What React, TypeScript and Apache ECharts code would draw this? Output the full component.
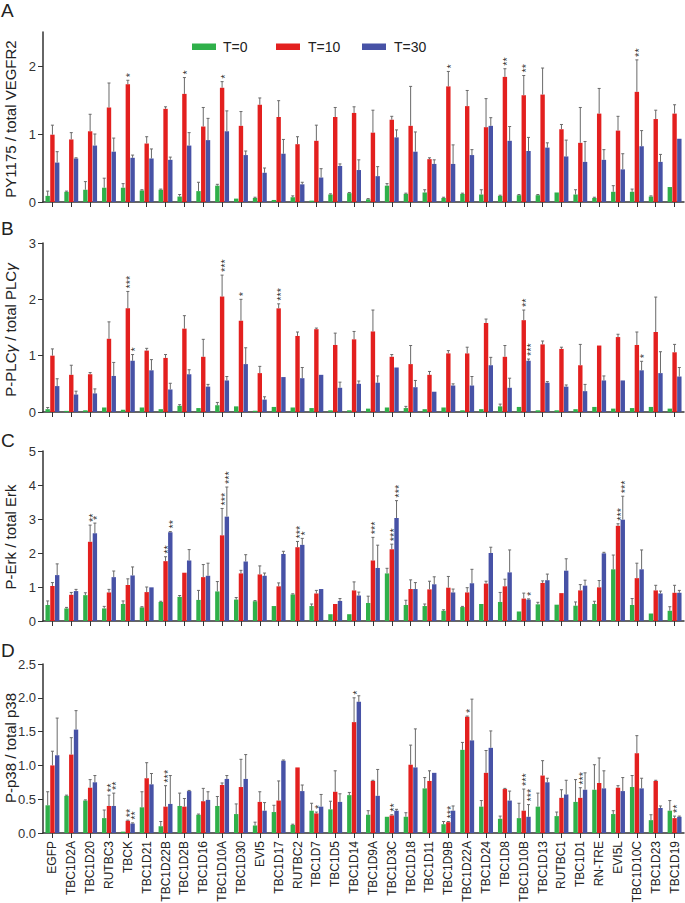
import React, { useEffect, useRef } from 'react';
import * as echarts from 'echarts';

const categories = ['EGFP','TBC1D2A','TBC1D20','RUTBC3','TBCK','TBC1D21','TBC1D22B','TBC1D2B','TBC1D16','TBC1D10A','TBC1D30','EVI5','TBC1D17','RUTBC2','TBC1D7','TBC1D5','TBC1D14','TBC1D9A','TBC1D3C','TBC1D18','TBC1D11','TBC1D9B','TBC1D22A','TBC1D24','TBC1D8','TBC1D10B','TBC1D13','RUTBC1','TBC1D1','RN-TRE','EVI5L','TBC1D10C','TBC1D23','TBC1D19'];

const seriesNames = ['T=0', 'T=10', 'T=30'];

// Panel A: PY1175 / total VEGFR2 (mean and top of error bar)
const vegfrT0 = [0.09,0.15,0.18,0.21,0.21,0.17,0.18,0.08,0.16,0.24,0.05,0.06,0.03,0.07,0.02,0.11,0.13,0.04,0.24,0.12,0.14,0.06,0.12,0.11,0.09,0.10,0.10,0.14,0.11,0.06,0.15,0.15,0.08,0.22];
const vegfrT0Hi = [0.16,0.16,0.30,0.35,0.27,0.18,0.19,0.11,0.29,0.26,0.05,0.07,0.03,0.09,0.02,0.12,0.14,0.05,0.27,0.13,0.18,0.07,0.13,0.18,0.10,0.11,0.11,0.14,0.18,0.07,0.24,0.19,0.09,0.22];
const vegfrT10 = [0.99,0.92,1.04,1.39,1.73,0.86,1.37,1.59,1.11,1.68,1.12,1.43,1.25,0.85,0.90,1.25,1.31,1.02,1.21,1.12,0.63,1.70,1.41,1.10,1.84,1.57,1.58,1.07,0.87,1.30,1.05,1.62,1.22,1.30];
const vegfrT10Hi = [1.13,1.02,1.29,1.75,1.79,0.96,1.40,1.83,1.39,1.77,1.33,1.53,1.49,0.96,1.13,1.39,1.40,1.35,1.26,1.70,0.65,1.92,1.64,1.52,1.96,1.86,1.97,1.14,1.39,1.67,1.26,2.09,1.35,1.43];
const vegfrT30 = [0.58,0.64,0.83,0.74,0.65,0.64,0.62,0.83,0.91,1.04,0.69,0.43,0.71,0.26,0.36,0.53,0.47,0.38,0.95,0.74,0.56,0.56,0.69,1.12,0.90,0.75,0.80,0.67,0.59,0.62,0.48,0.82,0.59,0.93];
const vegfrT30Hi = [0.74,0.65,1.00,0.94,0.69,0.78,0.66,1.02,1.23,1.34,0.75,0.50,0.92,0.29,0.49,0.56,0.62,0.52,1.06,1.03,0.62,0.84,0.77,1.24,1.11,0.95,0.87,0.91,0.89,0.77,0.71,1.05,0.70,0.93];
const vegfrSig10: Record<string, string> = { TBCK: '*', TBC1D2B: '*', TBC1D10A: '*', TBC1D9B: '*', TBC1D8: '**', TBC1D10B: '**', TBC1D10C: '**' };
const vegfrSig30: Record<string, string> = {};

// Panel B: P-PLCγ / total PLCγ
const plcT0 = [0.05,0.02,0.03,0.08,0.04,0.08,0.05,0.11,0.07,0.12,0.10,0.02,0.09,0.08,0.07,0.03,0.03,0.06,0.08,0.07,0.05,0.08,0.03,0.05,0.10,0.09,0.03,0.03,0.05,0.09,0.06,0.07,0.09,0.06];
const plcT0Hi = [0.08,0.03,0.04,0.09,0.05,0.09,0.06,0.13,0.08,0.17,0.11,0.03,0.10,0.09,0.08,0.04,0.04,0.07,0.09,0.10,0.06,0.09,0.04,0.06,0.14,0.10,0.04,0.04,0.06,0.10,0.07,0.08,0.10,0.07];
const plcT10 = [1.00,0.66,0.67,1.30,1.84,1.09,0.96,1.48,0.98,2.05,1.62,0.69,1.84,1.35,1.47,1.19,1.29,1.43,0.98,0.85,0.66,1.04,1.04,1.58,0.98,1.63,1.20,1.12,0.83,1.18,1.33,1.19,1.42,1.06];
const plcT10Hi = [1.12,0.83,0.70,1.60,2.14,1.13,1.02,1.71,1.29,2.43,2.00,0.81,1.92,1.42,1.49,1.40,1.43,1.81,1.02,1.18,0.72,1.09,1.15,1.65,1.18,1.81,1.26,1.15,1.20,1.19,1.38,1.42,2.04,1.20];
const plcT30 = [0.46,0.31,0.33,0.64,0.91,0.74,0.40,0.67,0.45,0.56,0.85,0.22,0.62,0.60,0.66,0.43,0.50,0.52,0.79,0.44,0.36,0.47,0.47,0.83,0.43,0.91,0.52,0.45,0.37,0.56,0.56,0.74,0.69,0.63];
const plcT30Hi = [0.59,0.37,0.41,0.88,1.02,0.93,0.51,0.75,0.49,0.63,1.14,0.27,0.62,0.79,0.67,0.53,0.55,0.64,0.80,0.56,0.37,0.50,0.63,0.97,0.60,0.94,0.54,0.48,0.49,0.64,0.57,0.90,1.07,0.79];
const plcSig10: Record<string, string> = { TBCK: '***', TBC1D10A: '***', TBC1D30: '*', TBC1D17: '***', TBC1D10B: '**' };
const plcSig30: Record<string, string> = { TBCK: '*', TBC1D10B: '***', TBC1D10C: '*' };

// Panel C: P-Erk / total Erk
const erkT0 = [0.47,0.37,0.76,0.37,0.50,0.40,0.56,0.71,0.62,0.87,0.63,0.58,0.44,0.78,0.44,0.20,0.20,0.53,1.40,0.47,0.44,0.30,0.41,0.50,0.56,0.28,0.49,0.48,0.45,0.50,1.52,0.47,0.22,0.30];
const erkT0Hi = [0.59,0.40,0.83,0.43,0.59,0.42,0.58,0.75,0.90,1.16,0.69,0.60,0.44,0.80,0.50,0.20,0.20,0.73,1.55,0.61,0.50,0.33,0.43,0.50,0.84,0.28,0.55,0.48,0.56,0.58,1.94,0.66,0.22,0.42];
const erkT10 = [1.03,0.77,2.33,0.84,1.06,0.85,1.76,1.42,1.29,2.52,1.40,1.37,1.02,2.17,0.81,0.50,0.90,1.78,2.11,0.94,0.93,0.98,0.84,1.10,1.02,0.66,1.12,0.82,0.90,0.99,2.80,1.26,0.90,0.83];
const erkT10Hi = [1.13,0.84,2.82,0.93,1.24,1.00,1.89,1.43,1.66,3.31,1.49,1.62,1.12,2.34,0.90,0.50,1.15,2.46,2.26,1.21,1.17,1.31,0.98,1.17,1.23,0.82,1.18,0.82,1.07,1.19,2.86,1.70,1.05,1.05];
const erkT30 = [1.35,0.88,2.58,1.29,1.34,0.99,2.61,1.78,1.33,3.07,1.75,1.33,1.97,2.24,0.94,0.59,0.75,1.56,3.03,0.94,1.08,0.84,1.11,2.00,1.43,0.63,1.20,1.48,1.04,1.99,2.98,1.52,0.81,0.83];
const erkT30Hi = [1.68,0.93,2.88,1.47,1.59,1.00,2.63,2.10,1.70,3.94,1.95,1.41,2.05,2.43,0.95,0.66,0.85,2.23,3.54,1.13,1.30,0.94,1.52,2.17,2.09,0.65,1.38,1.83,1.20,2.02,3.67,2.09,0.88,0.90];
const erkSig10: Record<string, string> = { TBC1D20: '**', TBC1D22B: '**', TBC1D10A: '***', RUTBC2: '***', TBC1D9A: '***', TBC1D3C: '***', EVI5L: '***' };
const erkSig30: Record<string, string> = { TBC1D20: '*', TBC1D22B: '**', TBC1D10A: '***', RUTBC2: '*', TBC1D3C: '***', TBC1D10B: '*', EVI5L: '***' };

// Panel D: P-p38 / total p38
const p38T0 = [0.41,0.55,0.48,0.22,0.02,0.38,0.10,0.40,0.27,0.40,0.28,0.11,0.31,0.12,0.33,0.35,0.56,0.27,0.24,0.24,0.66,0.13,1.23,0.39,0.21,0.22,0.39,0.25,0.46,0.64,0.28,0.68,0.19,0.33];
const p38T0Hi = [0.61,0.56,0.49,0.34,0.02,0.61,0.17,0.59,0.28,0.54,0.43,0.16,0.41,0.13,0.44,0.47,0.60,0.33,0.24,0.30,0.82,0.17,1.34,0.48,0.25,0.44,0.59,0.31,0.79,1.01,0.33,0.85,0.27,0.48];
const p38T10 = [1.00,1.16,0.67,0.40,0.18,0.81,0.39,0.39,0.47,0.71,0.68,0.46,0.48,0.97,0.29,0.61,1.64,0.77,0.26,1.01,0.77,0.16,1.72,0.89,0.65,0.33,0.85,0.52,0.52,0.74,0.67,1.18,0.77,0.22];
const p38T10Hi = [1.21,1.41,0.79,0.56,0.19,1.04,0.70,0.51,0.66,0.74,1.09,0.61,0.77,0.97,0.31,0.92,2.00,0.78,0.27,1.30,0.92,0.17,1.73,1.22,0.66,0.65,1.07,0.64,0.67,1.11,0.70,1.44,0.78,0.25];
const p38T30 = [1.15,1.53,0.75,0.40,0.14,0.72,0.43,0.62,0.49,0.80,0.80,0.33,1.07,0.62,0.39,0.46,1.94,0.55,0.33,0.97,0.89,0.33,1.37,1.26,0.48,0.24,0.75,0.57,0.64,0.66,0.62,0.66,0.37,0.24];
const p38T30Hi = [1.70,1.81,0.85,0.59,0.15,0.88,0.85,0.63,0.61,0.85,1.16,0.45,1.08,0.71,0.57,0.58,2.03,0.94,0.35,1.54,0.89,0.40,1.98,1.51,0.62,0.42,0.81,0.78,0.89,0.92,0.82,0.81,0.40,0.25];
const p38Sig10: Record<string, string> = { RUTBC3: '**', TBCK: '**', TBC1D22B: '***', TBC1D7: '*', TBC1D14: '*', TBC1D3C: '**', TBC1D9B: '***', TBC1D22A: '*', TBC1D10B: '***', TBC1D1: '***', TBC1D19: '**' };
const p38Sig30: Record<string, string> = { RUTBC3: '**', TBCK: '**', TBC1D10B: '***' };

const FONT = 'Arial, "Liberation Sans", Helvetica, sans-serif';
const COLORS = ['#2fb04a', '#e3201f', '#4752a6'];
const ERR_COLOR = '#6a6a6a';
const BAR_W = 4.4;
const BAR_GAP = 0.08;
const STEP = BAR_W * (1 + BAR_GAP);
const GRID_LEFT = 43;
const GRID_WIDTH = 641;

const panels = [
  { letter: 'A', letterY: 1, top: 32, height: 170, max: 2.5, ticks: [0, 1, 2], decimals: 0,
    title: 'PY1175 / total VEGFR2', titleY: 119,
    series: [[vegfrT0, vegfrT0Hi], [vegfrT10, vegfrT10Hi], [vegfrT30, vegfrT30Hi]],
    sig: [{}, vegfrSig10, vegfrSig30] },
  { letter: 'B', letterY: 219, top: 243, height: 169, max: 3, ticks: [0, 1, 2, 3], decimals: 0,
    title: 'P-PLC{g|γ} / total PLC{g|γ}', titleY: 330,
    series: [[plcT0, plcT0Hi], [plcT10, plcT10Hi], [plcT30, plcT30Hi]],
    sig: [{}, plcSig10, plcSig30] },
  { letter: 'C', letterY: 431, top: 451, height: 170, max: 5, ticks: [0, 1, 2, 3, 4, 5], decimals: 0,
    title: 'P-Erk / total Erk', titleY: 537,
    series: [[erkT0, erkT0Hi], [erkT10, erkT10Hi], [erkT30, erkT30Hi]],
    sig: [{}, erkSig10, erkSig30] },
  { letter: 'D', letterY: 641, top: 664, height: 169, max: 2.5, ticks: [0, 0.5, 1, 1.5, 2, 2.5], decimals: 1,
    title: 'P-p38 / total p38', titleY: 748,
    series: [[p38T0, p38T0Hi], [p38T10, p38T10Hi], [p38T30, p38T30Hi]],
    sig: [{}, p38Sig10, p38Sig30] },
];

function buildOption() {
  const grid: any[] = [];
  const xAxis: any[] = [];
  const yAxis: any[] = [];
  const series: any[] = [];
  const graphic: any[] = [];

  panels.forEach((p, pi) => {
    const last = pi === panels.length - 1;
    grid.push({ left: GRID_LEFT, width: GRID_WIDTH, top: p.top, height: p.height, containLabel: false, outerBoundsMode: 'none' });
    xAxis.push({
      type: 'category', gridIndex: pi, data: categories,
      axisLine: { show: true, lineStyle: { color: '#333', width: 1.5 } },
      axisTick: { show: true, alignWithLabel: true, length: 5, interval: 0, lineStyle: { color: '#333', width: 1 } },
      axisLabel: last
        ? { show: true, interval: 0, rotate: 90, fontSize: 12, margin: 8, color: '#222', fontFamily: FONT }
        : { show: false },
      splitLine: { show: false },
    });
    yAxis.push({
      type: 'value', gridIndex: pi, min: 0, max: p.max, interval: p.decimals ? 0.5 : 1,
      axisLine: { show: true, lineStyle: { color: '#333', width: 1.5 } },
      axisTick: { show: true, length: 5, customValues: p.ticks, lineStyle: { color: '#333', width: 1 } },
      axisLabel: {
        show: true, customValues: p.ticks, fontSize: 13, margin: 7, color: '#333', fontFamily: FONT,
        formatter: (v: number) => v.toFixed(p.decimals),
      },
      splitLine: { show: false },
    });

    p.series.forEach(([vals], si) => {
      series.push({
        type: 'bar', name: seriesNames[si], xAxisIndex: pi, yAxisIndex: pi, data: vals,
        barWidth: BAR_W, barGap: `${BAR_GAP * 100}%`, silent: true,
        itemStyle: { color: COLORS[si] },
      });
    });
    p.series.forEach(([vals, his], si) => {
      const sig = p.sig[si] as Record<string, string>;
      const off = (si - 1) * STEP;
      series.push({
        type: 'custom', xAxisIndex: pi, yAxisIndex: pi, silent: true, clip: false, z: 5,
        encode: { x: 0, y: 1 },
        data: vals.map((v, i) => [i, v, his[i]]),
        renderItem: (params: any, api: any) => {
          const idx = api.value(0);
          const val = api.value(1);
          const hi = api.value(2);
          const p0 = api.coord([idx, val]);
          const p1 = api.coord([idx, hi]);
          const x = p0[0] + off;
          const children: any[] = [];
          if (p0[1] - p1[1] > 0.6) {
            children.push({ type: 'line', shape: { x1: x, y1: p0[1], x2: x, y2: p1[1] }, style: { stroke: ERR_COLOR, lineWidth: 1 } });
            children.push({ type: 'line', shape: { x1: x - 1.5, y1: p1[1], x2: x + 1.5, y2: p1[1] }, style: { stroke: ERR_COLOR, lineWidth: 1 } });
          }
          const s = sig[categories[params.dataIndex]];
          if (s) {
            children.push({
              type: 'text', x: x + 2.5, y: p1[1] - 3, rotation: Math.PI / 2,
              style: { text: s, fontSize: 11, fill: '#333', align: 'left', verticalAlign: 'middle', fontFamily: FONT },
            });
          }
          return { type: 'group', children };
        },
      });
    });

    graphic.push({
      type: 'text', x: 1, y: p.letterY,
      style: { text: p.letter, fontSize: 19, fill: '#222', align: 'left', verticalAlign: 'top', fontFamily: FONT },
    });
    graphic.push({
      type: 'text', x: 10, y: p.titleY, rotation: Math.PI / 2,
      style: {
        text: p.title, fontSize: 15, fill: '#222', align: 'center', verticalAlign: 'middle', fontFamily: FONT,
        rich: { g: { fontSize: 15, fontStyle: 'italic', fontFamily: FONT, fill: '#222' } },
      },
    });
  });

  const legendItems = [
    { x: 192, tx: 223 },
    { x: 276, tx: 308 },
    { x: 362, tx: 394 },
  ];
  legendItems.forEach((l, i) => {
    graphic.push({ type: 'rect', shape: { x: l.x, y: 43.5, width: 24, height: 6.5 }, style: { fill: COLORS[i] } });
    graphic.push({
      type: 'text', x: l.tx, y: 47,
      style: { text: seriesNames[i], fontSize: 14, fill: '#222', align: 'left', verticalAlign: 'middle', fontFamily: FONT },
    });
  });

  return {
    animation: false,
    backgroundColor: '#ffffff',
    textStyle: { fontFamily: FONT },
    grid, xAxis, yAxis, series, graphic,
  };
}

export default function App() {
  const ref = useRef<HTMLDivElement>(null);
  useEffect(() => {
    if (!ref.current) return;
    const chart = echarts.init(ref.current, undefined, { renderer: 'svg' });
    chart.setOption(buildOption() as any);
    return () => chart.dispose();
  }, []);
  return (
    <div style={{ position: 'fixed', left: 0, top: 0, width: 685, height: 903, overflow: 'hidden', background: '#fff' }}>
      <div ref={ref} style={{ width: 685, height: 903 }} />
    </div>
  );
}
